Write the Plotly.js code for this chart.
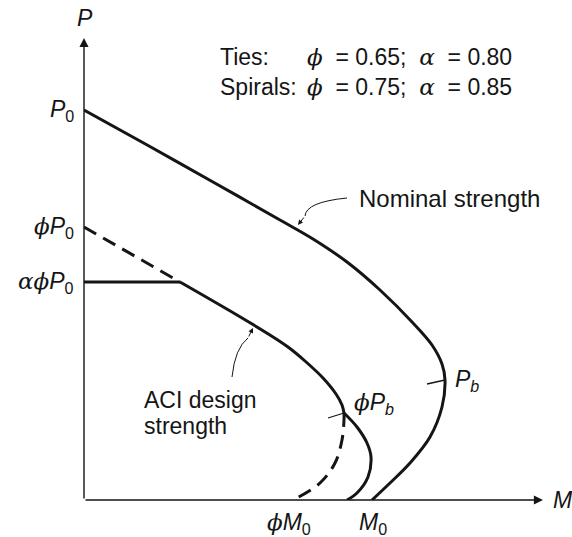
<!DOCTYPE html>
<html>
<head>
<meta charset="utf-8">
<script src="https://cdn.plot.ly/plotly-3.0.1.min.js"></script>
<style>html,body{margin:0;padding:0;background:#fff;}#chart{width:572px;height:537px;}</style>
</head>
<body>
<div id="chart"></div>
<script>
// Interaction diagram values (arbitrary units)
const nominalM = [0, 65, 129, 196, 229, 263, 296, 329, 348, 358, 361, 358, 346, 326, 306, 288];
const nominalP = [390, 354, 318, 280, 261, 238, 210, 177, 155, 136, 120, 93, 63, 37, 17, 0];

const capM = [0, 96];            // alpha*phi*P0 plateau
const capP = [218, 218];

const designUpperM = [96, 153, 186, 204, 221, 239, 252, 258, 260];
const designUpperP = [218, 185, 165, 153, 139, 122, 106, 95, 87];

const designLowerM = [260, 273, 283, 287, 284, 273, 263];
const designLowerP = [87, 73, 57, 43, 23, 7, 0];

const dashTopM = [0, 96];
const dashTopP = [273, 218];

const dashLowM = [260, 260, 258, 251, 236, 209];
const dashLowP = [87, 80, 60, 37, 17, 0];

const P0 = 390, phiP0 = 273, alphaPhiP0 = 218;
const M0 = 288, phiM0 = 209;
const Pb = {m: 361, p: 120}, phiPb = {m: 260, p: 87};

const XMAX = 459, YMAX = 462;
const INK = '#151515';
const SANS = 'Liberation Sans, Arial, sans-serif';
const SERIF = 'DejaVu Serif, Liberation Serif, serif';
const NB = '\u00A0';
const phi = '<span style="font-family:' + SERIF + '"><i>ϕ</i></span>';
const alpha = '<span style="font-family:' + SERIF + '"><i>α</i></span>';
const eq = NB + ' = ';

function line(x, y, dash, shape, w) {
  return {x: x, y: y, type: 'scatter', mode: 'lines', hoverinfo: 'skip',
    line: {color: INK, width: w || 3, dash: dash || 'solid', shape: shape || 'linear', smoothing: 1}};
}

const traces = [
  line(nominalM, nominalP, null, 'spline'),
  line(capM, capP),
  line(designUpperM, designUpperP, null, 'spline'),
  line(designLowerM, designLowerP, null, 'spline'),
  line(dashTopM, dashTopP, '14px,8px'),
  line(dashLowM, dashLowP, '14px,8px', 'spline'),
  // small ticks marking the balanced points
  line([Pb.m - 18, Pb.m], [Pb.p - 4, Pb.p], null, null, 1.3),
  line([phiPb.m - 16, phiPb.m], [phiPb.p - 5, phiPb.p], null, null, 1.3)
];

function txt(x, y, text, xanchor, size, ref) {
  const paper = ref === 'paper';
  return {x: paper ? x / XMAX : x, y: paper ? y / YMAX : y,
    xref: paper ? 'paper' : 'x', yref: paper ? 'paper' : 'y', text: text, showarrow: false,
    xanchor: xanchor || 'center', yanchor: 'middle', align: 'left',
    font: {family: SANS, size: size || 23, color: INK}};
}

const annotations = [
  // axes with arrowheads
  {x: XMAX, y: 0, ax: 0, ay: 0, xref: 'x', yref: 'y', axref: 'x', ayref: 'y', text: '', showarrow: true,
   arrowhead: 2, arrowsize: 1.3, arrowwidth: 1.4, arrowcolor: INK},
  {x: 0, y: YMAX, ax: 0, ay: 0, xref: 'x', yref: 'y', axref: 'x', ayref: 'y', text: '', showarrow: true,
   arrowhead: 2, arrowsize: 1.3, arrowwidth: 1.4, arrowcolor: INK},
  txt(1, 482, '<i>P</i>', 'center', 23, 'paper'),
  txt(467, 0, '<i>M</i>', 'left', 23, 'paper'),
  txt(-8, P0, '<i>P</i><sub>0</sub>', 'right', 23, 'paper'),
  txt(-8, phiP0, phi + '<i>P</i><sub>0</sub>', 'right', 23, 'paper'),
  txt(-8, alphaPhiP0, alpha + phi + '<i>P</i><sub>0</sub>', 'right', 23, 'paper'),
  txt(phiM0 - 4, -23, phi + '<i>M</i><sub>0</sub>', 'center', 23, 'paper'),
  txt(M0 + 1, -23, '<i>M</i><sub>0</sub>', 'center', 23, 'paper'),
  txt(Pb.m + 8, Pb.p, '<i>P</i><sub><i>b</i></sub>', 'left', 23),
  txt(phiPb.m + 8, phiPb.p + 10, phi + '<i>P</i><sub><i>b</i></sub>', 'left', 23),
  txt(134, 443, 'Ties:', 'left', 23),
  txt(134, 413, 'Spirals:', 'left', 23),
  txt(221, 443, phi + eq + '0.65;' + NB + ' ' + alpha + eq + '0.80', 'left', 23),
  txt(221, 413, phi + eq + '0.75;' + NB + ' ' + alpha + eq + '0.85', 'left', 23),
  txt(273, 302, 'Nominal strength', 'left', 24),
  txt(58, 100, 'ACI design', 'left', 23),
  txt(58, 74, 'strength', 'left', 23),
  // arrowheads for the curved leaders
  {x: 214, y: 275, ax: 221, ay: 284, xref: 'x', yref: 'y', axref: 'x', ayref: 'y', text: '', showarrow: true,
   arrowhead: 2, arrowsize: 1, arrowwidth: 1, arrowcolor: INK},
  {x: 169, y: 172, ax: 164, ay: 162, xref: 'x', yref: 'y', axref: 'x', ayref: 'y', text: '', showarrow: true,
   arrowhead: 2, arrowsize: 1, arrowwidth: 1, arrowcolor: INK}
];

const shapes = [
  {type: 'path', xref: 'x', yref: 'y', path: 'M 263 302 Q 222 298 221 284', line: {color: INK, width: 1}},
  {type: 'path', xref: 'x', yref: 'y', path: 'M 148 123 Q 151 152 164 162', line: {color: INK, width: 1}}
];

const layout = {
  width: 572, height: 537,
  margin: {l: 84, r: 29, t: 38, b: 37, pad: 0},
  paper_bgcolor: '#fff', plot_bgcolor: 'rgba(0,0,0,0)',
  showlegend: false,
  xaxis: {range: [0, XMAX], showgrid: false, zeroline: false, showticklabels: false, showline: false, ticks: '', fixedrange: true},
  yaxis: {range: [0, YMAX], showgrid: false, zeroline: false, showticklabels: false, showline: false, ticks: '', fixedrange: true},
  annotations: annotations,
  shapes: shapes
};

Plotly.newPlot('chart', traces, layout, {displayModeBar: false, staticPlot: true});
</script>
</body>
</html>
